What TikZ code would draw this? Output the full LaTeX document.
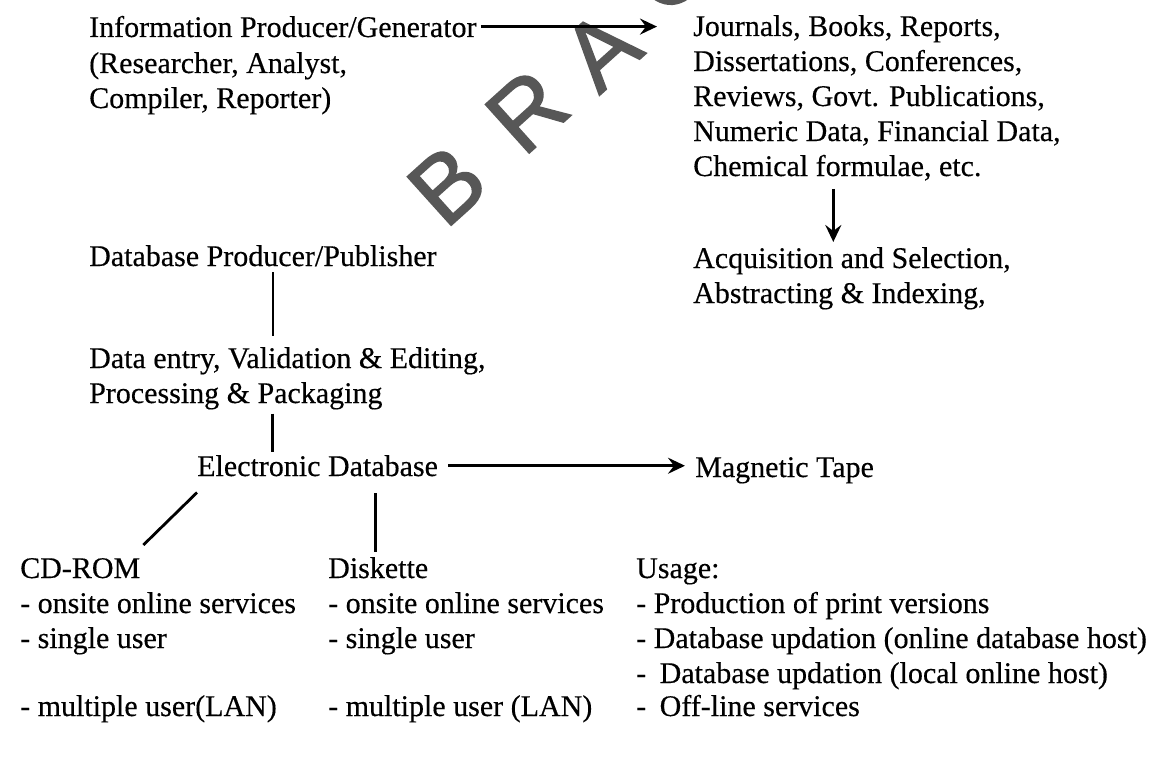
\documentclass[tikz,border=0pt]{standalone}
\usepackage{fontspec}
\setmainfont{Liberation Serif}[FakeBold=0.35]
\newfontfamily\wmfont{Liberation Sans}[FakeBold=1.6]
\usetikzlibrary{arrows.meta}
\begin{document}
\begin{tikzpicture}[x=1pt,y=-1pt,
  lbl/.style={anchor=base west, inner sep=0pt, font=\fontsize{30}{35}\selectfont},
  link/.style={line width=2.8pt},
  arr/.style={link, -{Stealth[length=17pt,width=16pt,inset=6pt]}},
  wm/.style={font=\wmfont\fontsize{95}{95}\selectfont, text=black!66, rotate=42, inner sep=0pt}]
\useasboundingbox (0,0) rectangle (1150,760);
\clip (0,0) rectangle (1150,760);
\fill[white] (0,0) rectangle (1150,760);
% watermark
\node[wm] (wmB) at (447,185) {B};
\node[wm] (wmR) at (527,111) {R};
\node[wm] (wmA) at (601,50) {A};
\node[wm] (wmO) at (670,-30) {O};
% text
\node[lbl] (info1) at (89,37) {Information Producer/Generator};
\node[lbl] (info2) at (89,73) {(Researcher, Analyst,};
\node[lbl] (info3) at (89,108) {Compiler, Reporter)};
\node[lbl] (j1) at (693,36) {Journals, Books, Reports,};
\node[lbl] (j2) at (693,71) {Dissertations, Conferences,};
\node[lbl] (j3) at (693,106) {Reviews, Govt. Publications,};
\node[lbl] (j4) at (693,141) {Numeric Data, Financial Data,};
\node[lbl] (j5) at (693,176) {Chemical formulae, etc.};
\node[lbl] (acq1) at (693,268) {Acquisition and Selection,};
\node[lbl] (acq2) at (693,303) {Abstracting \& Indexing,};
\node[lbl] (dbp) at (89,266) {Database Producer/Publisher};
\node[lbl] (de1) at (89,368) {Data entry, Validation \& Editing,};
\node[lbl] (de2) at (89,403) {Processing \& Packaging};
\node[lbl] (edb) at (197,476) {Electronic Database};
\node[lbl] (mt) at (695,477) {Magnetic Tape};
\node[lbl] (cd) at (20,578) {CD-ROM};
\node[lbl] (cd1) at (20,613) {- onsite online services};
\node[lbl] (cd2) at (20,648) {- single user};
\node[lbl] (cd3) at (20,716) {- multiple user(LAN)};
\node[lbl] (dk) at (328,578) {Diskette};
\node[lbl] (dk1) at (328,613) {- onsite online services};
\node[lbl] (dk2) at (328,648) {- single user};
\node[lbl] (dk3) at (328,716) {- multiple user (LAN)};
\node[lbl] (us) at (636,578) {Usage:};
\node[lbl] (us1) at (636,613) {- Production of print versions};
\node[lbl] (us2) at (636,648) {- Database updation (online database host)};
\node[lbl] (us3) at (636,683) {-\hspace{0.45em}Database updation (local online host)};
\node[lbl] (us4) at (636,716) {-\hspace{0.45em}Off-line services};
% connectors
\draw[arr, shorten <=4pt, shorten >=36pt] (info1.east) -- (info1.east -| j1.west);
\draw[arr, shorten <=8pt, shorten >=5pt] ([xshift=-4pt]j5.south) -- ([xshift=-4pt]j5.south |- acq1.north);
\draw[link, shorten <=6pt, shorten >=11pt] ([xshift=10pt]dbp.south) -- ([xshift=10pt]dbp.south |- de1.north);
\draw[link, shorten <=4pt, shorten >=3pt] (de2.south -| edb.north) ++(-45pt,0) coordinate (v2a) -- (v2a |- edb.north);
\draw[arr, shorten <=10pt, shorten >=10pt] (edb.east) -- (edb.east -| mt.west);
\draw[link] ([yshift=-16pt]edb.south west) -- ([shift={(3pt,13pt)}]cd.north east);
\draw[link, shorten <=17pt, shorten >=5pt] ([xshift=-3pt]dk.north |- edb.south) -- ([xshift=-3pt]dk.north);
\end{tikzpicture}
\end{document}
